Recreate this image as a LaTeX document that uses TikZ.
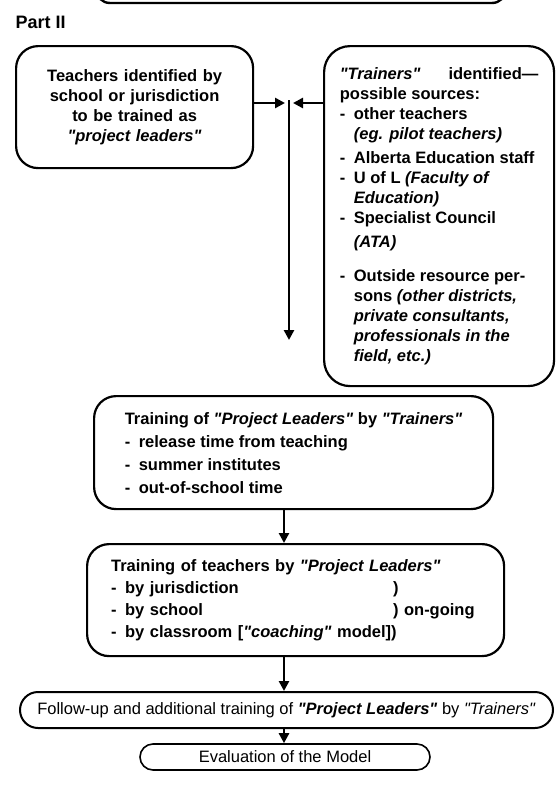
\documentclass[tikz,border=0pt]{standalone}
\usepackage{fontspec}
\setmainfont{Liberation Sans}[Ligatures=TeXOff]
\usetikzlibrary{arrows.meta}
\newcommand\dsh{\makebox[14pt][l]{-}}
\newcommand\ind{\hspace*{14pt}}
\begin{document}
\begin{tikzpicture}[x=1pt,y=-1pt,
  box/.style={draw, line width=2.2pt, rounded corners=22pt, inner sep=0pt,
    font=\fontsize{16.5}{20}\selectfont\bfseries},
  arr/.style={line width=2.6pt, -{Triangle[length=10pt,width=10pt]}},
]
\useasboundingbox (0,0) rectangle (556,793);
\begin{scope}
\clip (0,0) rectangle (556,793);
\draw[line width=2.4pt, rounded corners=14pt] (96,-40) rectangle (506,3);
\end{scope}

\node[font=\fontsize{18}{20}\selectfont\bfseries, anchor=west] (part) at (12,22) {Part II};

\node[box, minimum width=237pt, minimum height=122pt, text width=210pt,
  align=center, anchor=north west] (b1) at (15,45)
  {Teachers identified by\\school or jurisdiction\\to be trained as\\\textit{"project leaders"}};

\node[box, rounded corners=26pt, minimum width=230pt, minimum height=340pt,
  align=left, anchor=north west] (b2) at (323,45)
  {\textit{"Trainers"}\hspace{28pt}identified—\\
   possible sources:\\
   \dsh other teachers\\
   \ind\textit{(eg. pilot teachers)}\\[4pt]
   \dsh Alberta Education staff\\
   \dsh U of L \textit{(Faculty of}\\
   \ind\textit{Education)}\\
   \dsh Specialist Council\\[4pt]
   \ind\textit{(ATA)}\\[14pt]
   \dsh Outside resource per-\\
   \ind sons \textit{(other districts,}\\
   \ind\textit{private consultants,}\\
   \ind\textit{professionals in the}\\
   \ind\textit{field, etc.)}};

\node[box, minimum width=399pt, minimum height=113pt,
  align=left, anchor=north west, font=\fontsize{16.5}{23}\selectfont\bfseries] (b3) at (93,395)
  {Training of \textit{"Project Leaders"} by \textit{"Trainers"}\\
   \dsh release time from teaching\\
   \dsh summer institutes\\
   \dsh out-of-school time};

\node[box, minimum width=417pt, minimum height=112pt, text width=369pt,
  align=left, anchor=north west, font=\fontsize{16.5}{22}\selectfont\bfseries] (b4) at (86,543)
  {Training of teachers by \textit{"Project Leaders"}\\
   \makebox[282pt][l]{\dsh by jurisdiction})\\
   \makebox[282pt][l]{\dsh by school}) on-going\\
   \dsh by classroom [\textit{"coaching"} model])};

\node[draw, line width=2pt, rounded corners=18pt, inner sep=0pt,
  minimum width=533pt, minimum height=36pt,
  font=\fontsize{16.5}{20}\selectfont] (b5) at (286.5,710)
  {Follow-up and additional training of \textbf{\textit{"Project Leaders"}} by \textit{"Trainers"}};

\node[draw, line width=1.6pt, rounded corners=13pt, inner sep=0pt,
  minimum width=290pt, minimum height=26pt,
  font=\fontsize{16.5}{20}\selectfont] (b6) at (285,757)
  {Evaluation of the Model};

\coordinate (jl) at (285,103);
\coordinate (jr) at (293,103);
\coordinate (jt) at (289,100);
\coordinate (jb) at (289,340);
\coordinate (ax) at (284,0);

\draw[arr] (b1.east |- jl) -- (jl);
\draw[arr] (b2.west |- jr) -- (jr);
\draw[arr] (jt) -- (jb);
\draw[arr] (b3.south -| ax) -- (b4.north -| ax);
\draw[arr] (b4.south -| ax) -- (b5.north -| ax);
\draw[arr] (b5.south -| ax) -- (b6.north -| ax);
\end{tikzpicture}
\end{document}
